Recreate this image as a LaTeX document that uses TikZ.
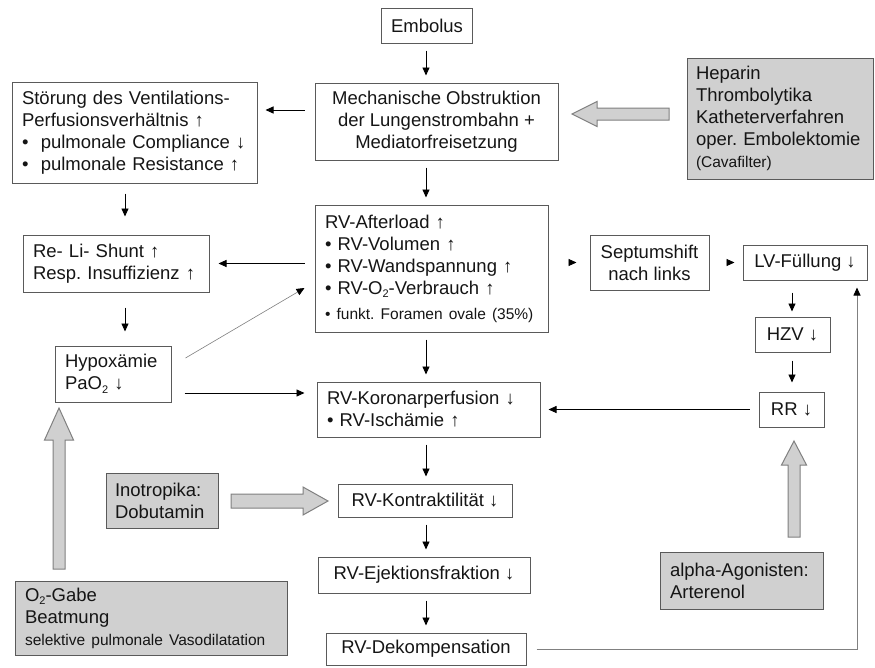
\documentclass[tikz,border=0pt]{standalone}
\usepackage{fontspec}
\setmainfont{Liberation Sans}
\usetikzlibrary{arrows.meta,calc}
\definecolor{bord}{HTML}{5A5A5A}
\definecolor{gfill}{HTML}{D0D0D0}
\definecolor{txt}{HTML}{151515}
\definecolor{lgray}{HTML}{808080}
\newcommand\subtwo{\raisebox{-0.35ex}{\fontsize{11}{11}\selectfont 2}}
\newcommand\smalltxt{\fontsize{15.5}{18}\selectfont}
\frenchspacing
\begin{document}
\begin{tikzpicture}[x=1pt,y=-1pt,
  bx/.style={draw=bord, line width=1pt, rectangle, inner ysep=0pt, inner xsep=10pt, text=txt, font=\fontsize{18.5}{22}\selectfont\frenchspacing},
  gbx/.style={bx, fill=gfill},
  arr/.style={-{Triangle[length=8pt,width=7pt]}, line width=0.9pt, shorten <=7pt, shorten >=7pt, draw=black},
  arrg/.style={arr, draw=lgray, -{Triangle[length=8pt,width=7pt,color=black]}},
  blk/.style={fill=gfill, draw=lgray, line width=1pt, line join=miter}]
\useasboundingbox (0,0) rectangle (875,667);
% nodes
\node[bx, minimum width=90pt, minimum height=35pt] (emb) at (427,25.5) {Embolus};
\node[bx, minimum width=243pt, minimum height=77pt, align=center] (mech) at (436.5,121.5) {Mechanische Obstruktion\\der Lungenstrombahn +\\Mediatorfreisetzung};
\node[bx, text width=225pt, minimum height=101pt, align=left] (st) at (134.5,132.5) {Störung des Ventilations-\\Perfusionsverhältnis ↑\\•\ \ pulmonale Compliance ↓\\•\ \ pulmonale Resistance ↑};
\node[gbx, inner xsep=9pt, text width=168pt, minimum height=121pt, align=left] (hep) at (780,118.5) {Heparin\\Thrombolytika\\Katheterverfahren\\oper. Embolektomie\\{\smalltxt (Cavafilter)}};
\node[bx, text width=166pt, minimum height=57pt, align=left] (reli) at (116,263.5) {Re- Li- Shunt ↑\\Resp. Insuffizienz ↑};
\node[bx, text width=96pt, minimum height=56pt, align=left] (hyp) at (113,374) {Hypoxämie\\PaO\subtwo{} ↓};
\node[bx, text width=213pt, minimum height=127pt, align=left] (aft) at (431.5,268.5) {RV-Afterload ↑\\• RV-Volumen ↑\\• RV-Wandspannung ↑\\• RV-O\subtwo-Verbrauch ↑\\[3pt]{\smalltxt • funkt. Foramen ovale (35\%)}};
\node[bx, minimum width=119pt, minimum height=55pt, align=center] (sep) at (649.5,262.5) {Septumshift\\nach links};
\node[bx, minimum width=124pt, minimum height=35pt] (lv) at (805,262.5) {LV-Füllung ↓};
\node[bx, minimum width=75pt, minimum height=35pt] (hzv) at (792.5,334.5) {HZV ↓};
\node[bx, minimum width=65pt, minimum height=35pt] (rr) at (791.5,409.5) {RR ↓};
\node[bx, text width=203pt, minimum height=55pt, align=left] (kor) at (428.5,409.5) {RV-Koronarperfusion ↓\\• RV-Ischämie ↑};
\node[gbx, inner xsep=9pt, text width=94pt, minimum height=55pt, align=left] (ino) at (162,500.5) {Inotropika:\\Dobutamin};
\node[bx, minimum width=174pt, minimum height=33pt] (kon) at (425,500.5) {RV-Kontraktilität ↓};
\node[bx, minimum width=212pt, minimum height=36pt] (eje) at (424,575) {RV-Ejektionsfraktion ↓};
\node[bx, minimum width=200pt, minimum height=32pt] (dek) at (426,649) {RV-Dekompensation};
\node[gbx, text width=252pt, minimum height=74pt, align=left] (o2) at (151,618) {O\subtwo-Gabe\\Beatmung\\{\smalltxt selektive pulmonale Vasodilatation}};
\node[gbx, text width=143pt, minimum height=57pt, align=left] (al) at (741.5,580.5) {alpha-Agonisten:\\Arterenol};
% helper coordinates
\coordinate (cx) at (426,0);
\coordinate (rx) at (792,0);
\coordinate (lx) at (125,0);
\coordinate (vx) at (857,0);
\coordinate (my) at (0,110);
\coordinate (hy) at (0,393);
% connectors
\draw[arr] (emb.south -| cx) -- (mech.north -| cx);
\draw[arr, shorten <=10pt, shorten >=8pt] (mech.west |- my) -- (st.east |- my);
\draw[arr] (mech.south -| cx) -- (aft.north -| cx);
\draw[arr, shorten <=10pt, shorten >=18pt] (st.south -| lx) -- (reli.north -| lx);
\draw[arr, shorten <=10pt, shorten >=9pt] (aft.west |- reli.east) -- (reli.east);
\draw[arr, shorten <=15pt, shorten >=14pt] (reli.south -| lx) -- (hyp.north -| lx);
\draw[arr, line width=0.6pt, draw=lgray, -{Triangle[length=8pt,width=7pt,color=black]}, shorten <=0pt, shorten >=0pt] ($(hyp.east)+(14,-16)$) -- ($(aft.west)+(-10,19.5)$);
\draw[arr, shorten <=13pt, shorten >=12pt] (hyp.east |- hy) -- (kor.west |- hy);
\draw[arr] (aft.south -| cx) -- (kor.north -| cx);
\draw[arr, shorten <=21pt, shorten >=13pt] (aft.east |- sep.west) -- (sep.west);
\draw[arr, shorten <=18pt, shorten >=8pt] (sep.east |- lv.west) -- (lv.west);
\draw[arr, shorten <=12pt, shorten >=5pt] (lv.south -| rx) -- (hzv.north -| rx);
\draw[arr, shorten <=8pt, shorten >=9pt] (hzv.south -| rx) -- (rr.north -| rx);
\draw[arr, shorten <=9pt, shorten >=8pt] (rr.west) -- (kor.east);
\draw[arr] (kor.south -| cx) -- (kon.north -| cx);
\draw[arr] (kon.south -| cx) -- (eje.north -| cx);
\draw[arr] (eje.south -| cx) -- (dek.north -| cx);
\draw[arrg, shorten <=10pt] (dek.east) -- (dek.east -| vx) -- (vx |- lv.south);
% block arrows
\draw[blk] (669,108) -- (597,108) -- (597,101.5) -- (572,114) -- (597,126.5) -- (597,120) -- (669,120) -- cycle;
\draw[blk] (231,494) -- (303,494) -- (303,487) -- (328,501) -- (303,515) -- (303,508) -- (231,508) -- cycle;
\draw[blk] (53,569) -- (53,440) -- (44.5,440) -- (59,408) -- (73.5,440) -- (65,440) -- (65,569) -- cycle;
\draw[blk] (788,537) -- (788,465) -- (781.5,465) -- (794,441) -- (806.5,465) -- (800,465) -- (800,537) -- cycle;
\end{tikzpicture}
\end{document}
